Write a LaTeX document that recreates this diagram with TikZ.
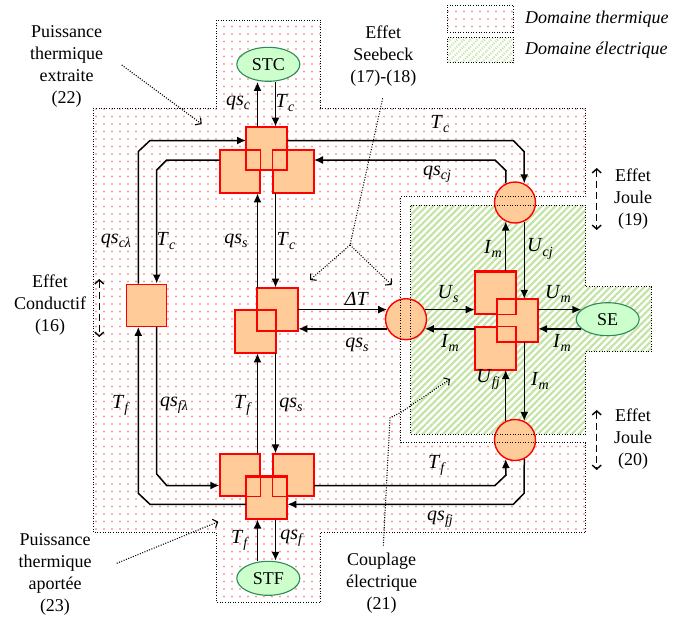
\documentclass[tikz,border=0pt]{standalone}
\usepackage{fontspec}
\setmainfont{Liberation Serif}
\usetikzlibrary{arrows.meta,calc,positioning,shapes.geometric,patterns.meta}
\definecolor{boxFill}{RGB}{255,204,153}
\definecolor{srcFill}{RGB}{204,255,204}
\definecolor{srcLine}{RGB}{46,139,87}
\definecolor{dotPink}{RGB}{255,150,150}
\definecolor{hatchGreen}{RGB}{195,228,165}
\pgfdeclarepattern{
  name=pinkdots,
  type=uncolored,
  bottom left={\pgfpoint{-4pt}{-3.75pt}},
  top right={\pgfpoint{4pt}{3.75pt}},
  tile size={\pgfpoint{8pt}{7.5pt}},
  code={\pgfpathcircle{\pgfpointorigin}{1.1pt}\pgfusepath{fill}}
}
\newcommand{\flux}[2]{\textit{#1}\raisebox{-0.45ex}{\fontsize{14}{14}\selectfont\textit{#2}}}

\begin{document}
\begin{tikzpicture}[x=1pt, y=-1pt, every node/.style={font=\fontsize{18}{22}\selectfont},
  convbox/.style={rectangle, draw=red, line width=1.4pt, fill=boxFill, minimum width=40pt, minimum height=42pt, inner sep=0pt},
  convcirc/.style={circle, draw=red, line width=1.4pt, fill=boxFill, minimum size=41pt, inner sep=0pt},
  source/.style={ellipse, draw=srcLine, line width=1.1pt, fill=srcFill, minimum width=63pt, minimum height=34pt, inner sep=0pt},
  lab/.style={font=\fontsize{20}{22}\selectfont, inner sep=0pt},
  note/.style={align=center, inner sep=0pt},
  flow/.style={line width=1.5pt, -{Latex[length=9pt,width=8pt]}},
  border/.style={line width=0.7pt, dash pattern=on 1pt off 1.6pt},
  pointer/.style={line width=1.1pt, dash pattern=on 1pt off 1.5pt, -{Straight Barb[length=4pt,width=9pt]}},
  effect/.style={line width=1.4pt, dash pattern=on 7pt off 4pt, {Straight Barb[length=4pt,width=9pt]}-{Straight Barb[length=4pt,width=9pt]}}]
  \useasboundingbox (0,0) rectangle (687,619);

  % ---------------- DOMAINS ----------------
  \fill[pattern=pinkdots, pattern color=dotPink]
    (93.3,108.3) -- (216.7,108.3) -- (216.7,20) -- (320.7,20) -- (320.7,108.3) -- (585.7,108.3)
    -- (585.7,196.7) -- (400.7,196.7) -- (400.7,442.7) -- (585.7,442.7) -- (585.7,532.3)
    -- (320.7,532.3) -- (320.7,602.3) -- (216.7,602.3) -- (216.7,532.3) -- (93.3,532.3) -- cycle;
  \fill[pattern={Lines[angle=45,distance=4.8pt,line width=2.2pt]}, pattern color=hatchGreen]
    (410.7,205) -- (585.7,205) -- (585.7,286.7) -- (651.7,286.7) -- (651.7,351.7)
    -- (585.7,351.7) -- (585.7,434.3) -- (410.7,434.3) -- cycle;

  % ---------------- NODES ----------------
  \node[source] (stc) at (268.3,64.3) {STC};
  \node[source] (stf) at (268.3,578.3) {STF};
  \node[source, minimum height=33pt] (se) at (607.7,319.2) {SE};

  \node[convbox] (tL) at (240,171.7) {};
  \node[convbox] (tR) at (293.3,171.7) {};
  \node[convbox] (tC) at (266.7,148.3) {};
  \node[convbox] (mR) at (277.7,309.2) {};
  \node[convbox] (mL) at (255.3,331.7) {};
  \node[convbox] (bL) at (240,475) {};
  \node[convbox] (bR) at (293.3,475) {};
  \node[convbox] (bC) at (266.7,497.8) {};
  \node[convbox] (cB) at (146.3,305.2) {};
  \node[convbox] (eA) at (495.3,292.8) {};
  \node[convbox] (eB) at (495.3,348.3) {};
  \node[convbox] (eC) at (517.5,320.5) {};
  \foreach \b in {tL,tR,tC,mR,mL,bL,bR,bC,eA,eB,eC}
    \draw[red, line width=1.4pt] (\b.south west) rectangle (\b.north east);

  \node[convcirc] (jT) at (515,202.5) {};
  \node[convcirc] (sB) at (406,319.2) {};
  \node[convcirc] (jB) at (515,440) {};

  % ---------------- CONNECTORS ----------------
  \coordinate (xa) at (257.5,0);
  \coordinate (xb) at (275.5,0);
  \draw[flow] (tC.north -| xa) -- (stc.south -| xa);
  \draw[flow] (stc.south -| xb) -- (tC.north -| xb);
  \draw[flow] (mR.north -| xa) -- (tL.south -| xa);
  \draw[flow] (tR.south -| xb) -- (mR.north -| xb);
  \draw[flow] (bL.north -| xa) -- (mL.south -| xa);
  \draw[flow] (mL.south -| xb) -- (bR.north -| xb);
  \draw[flow] (stf.north -| xa) -- (bC.south -| xa);
  \draw[flow] (bC.south -| xb) -- (stf.north -| xb);

  % left loop
  \coordinate (cl1) at (150,140.5);
  \coordinate (cl2) at (138.3,151.5);
  \coordinate (cl3) at (166.7,160);
  \coordinate (cl4) at (156.7,170);
  \coordinate (cl5) at (156.7,474);
  \coordinate (cl6) at (166.7,485.5);
  \coordinate (cl7) at (138.3,493.3);
  \coordinate (cl8) at (150,504.3);
  \draw[flow] (cB.north -| cl2) -- (cl2) -- (cl1) -- (cl1 -| tC.west);
  \draw[flow] (cl3 -| tL.west) -- (cl3) -- (cl4) -- (cl4 |- cB.north);
  \draw[flow] (cB.south -| cl5) -- (cl5) -- (cl6) -- (cl6 -| bL.west);
  \draw[flow] (cl8 -| bC.west) -- (cl8) -- (cl7) -- (cl7 |- cB.south);

  % right loop
  \coordinate (cr1) at (513.3,140.5);
  \coordinate (cr2) at (524,151.5);
  \coordinate (cr3) at (495,160);
  \coordinate (cr4) at (506,170.7);
  \coordinate (cr5) at (495,485.5);
  \coordinate (cr6) at (506,475);
  \coordinate (cr7) at (524,493.3);
  \coordinate (cr8) at (513.3,504.3);
  \draw[flow] (cr1 -| tC.east) -- (cr1) -- (cr2) -- (jT.64);
  \draw[flow] (jT.116) -- (cr4) -- (cr3) -- (cr3 -| tR.east);
  \draw[flow] (cr5 -| bR.east) -- (cr5) -- (cr6) -- (jB.-116);
  \draw[flow] (jB.-64) -- (cr7) -- (cr8) -- (cr8 -| bC.east);

  % electrical part
  \draw[flow] (mR.east |- sB.153) -- (sB.153);
  \draw[flow] (sB.207) -- (sB.207 -| mR.east);
  \draw[flow] (sB.27) -- (sB.27 -| eA.west);
  \draw[flow] (sB.-27 -| eB.west) -- (sB.-27);
  \draw[flow] (eA.north -| jT.-116) -- (jT.-116);
  \draw[flow] (jT.-64) -- (jT.-64 |- eC.north);
  \draw[flow] (se.160 -| eC.east) -- (se.160);
  \draw[flow] (se.200) -- (se.200 -| eC.east);
  \draw[flow] (jB.116) -- (jB.116 |- eB.south);
  \draw[flow] (eC.south -| jB.64) -- (jB.64);

  % ---------------- BORDERS ----------------
  \draw[border]
    (93.3,108.3) -- (216.7,108.3) -- (216.7,20) -- (320.7,20) -- (320.7,108.3) -- (585.7,108.3)
    -- (585.7,196.7) -- (400.7,196.7) -- (400.7,442.7) -- (585.7,442.7) -- (585.7,532.3)
    -- (320.7,532.3) -- (320.7,602.3) -- (216.7,602.3) -- (216.7,532.3) -- (93.3,532.3) -- cycle;
  \draw[border]
    (410.7,205) -- (585.7,205) -- (585.7,286.7) -- (651.7,286.7) -- (651.7,351.7)
    -- (585.7,351.7) -- (585.7,434.3) -- (410.7,434.3) -- cycle;

  % ---------------- LABELS ----------------
  \node[lab] (lqsc) at (238,103) {\flux{qs}{c}};
  \node[lab] (lTc1) at (285,103) {\flux{T}{c}};
  \node[lab] (lTc2) at (440,124) {\flux{T}{c}};
  \node[lab] (lqscj) at (437,174) {\flux{qs}{cj}};
  \node[lab] (lqscl) at (116,241) {\flux{qs}{cλ}};
  \node[lab] (lTc3) at (166,241) {\flux{T}{c}};
  \node[lab] (lqss1) at (236,241) {\flux{qs}{s}};
  \node[lab] (lTc4) at (286,241) {\flux{T}{c}};
  \node[lab] (lDT) at (357,299) {\textit{ΔT}};
  \node[lab] (lqss2) at (357,345) {\flux{qs}{s}};
  \node[lab] (lTf1) at (121,405) {\flux{T}{f}};
  \node[lab] (lqsfl) at (174,405) {\flux{qs}{fλ}};
  \node[lab] (lTf2) at (243,405) {\flux{T}{f}};
  \node[lab] (lqss3) at (291,405) {\flux{qs}{s}};
  \node[lab] (lTf3) at (240,540) {\flux{T}{f}};
  \node[lab] (lqsf) at (292,538) {\flux{qs}{f}};
  \node[lab] (lTf4) at (437,465) {\flux{T}{f}};
  \node[lab] (lqsfj) at (440,519) {\flux{qs}{fj}};
  \node[lab] (lIm1) at (493,249) {\flux{I}{m}};
  \node[lab] (lUcj) at (540,249) {\flux{U}{cj}};
  \node[lab] (lUs) at (448,294) {\flux{U}{s}};
  \node[lab] (lUm) at (558,294) {\flux{U}{m}};
  \node[lab] (lIm2) at (450,343) {\flux{I}{m}};
  \node[lab] (lIm3) at (562,343) {\flux{I}{m}};
  \node[lab] (lUfj) at (488,379) {\flux{U}{fj}};
  \node[lab] (lIm4) at (540,381) {\flux{I}{m}};

  % ---------------- NOTES ----------------
  \node[note] (nExt) at (66.7,66.5) {Puissance\\thermique\\extraite\\(22)};
  \node[note] (nApp) at (55,574) {Puissance\\thermique\\aportée\\(23)};
  \node[note] (nSee) at (383.3,55.7) {Effet\\Seebeck\\(17)-(18)};
  \node[note] (nCond) at (50,305) {Effet\\Conductif\\(16)};
  \node[note] (nJ19) at (633,198.7) {Effet\\Joule\\(19)};
  \node[note] (nJ20) at (633,439.3) {Effet\\Joule\\(20)};
  \node[note] (nCoup) at (381.7,583) {Couplage\\électrique\\(21)};

  \draw[pointer] (121.7,65) -- (201.7,124);
  \draw[pointer] (116.7,563.3) -- (218.3,521.7);
  \coordinate (see) at (350,245);
  \draw[border, line width=1pt] (382.7,98.3) -- (see);
  \draw[pointer] (see) -- (310,280);
  \draw[pointer] (see) -- (391.7,285);
  \draw[pointer] (383.3,545.7) -- (390,418) -- (402,411.7) -- (450,379);
  \draw[effect] (99.3,279) -- (99.3,337);
  \draw[effect] (596.7,168) -- (596.7,230);
  \draw[effect] (596.7,410) -- (596.7,470);

  % ---------------- LEGEND ----------------
  \node[draw, border, pattern=pinkdots, pattern color=dotPink, minimum width=66pt, minimum height=27.3pt, inner sep=0pt] (legT) at (480.3,18.7) {};
  \node[draw, border, pattern={Lines[angle=45,distance=4.8pt,line width=2.2pt]}, pattern color=hatchGreen, minimum width=66pt, minimum height=25.4pt, inner sep=0pt] (legE) at (480.3,50) {};
  \node[anchor=west, inner sep=0pt] (legTt) at (525,18.7) {\textit{Domaine thermique}};
  \node[anchor=west, inner sep=0pt] (legEt) at (525,50) {\textit{Domaine électrique}};
\end{tikzpicture}
\end{document}
